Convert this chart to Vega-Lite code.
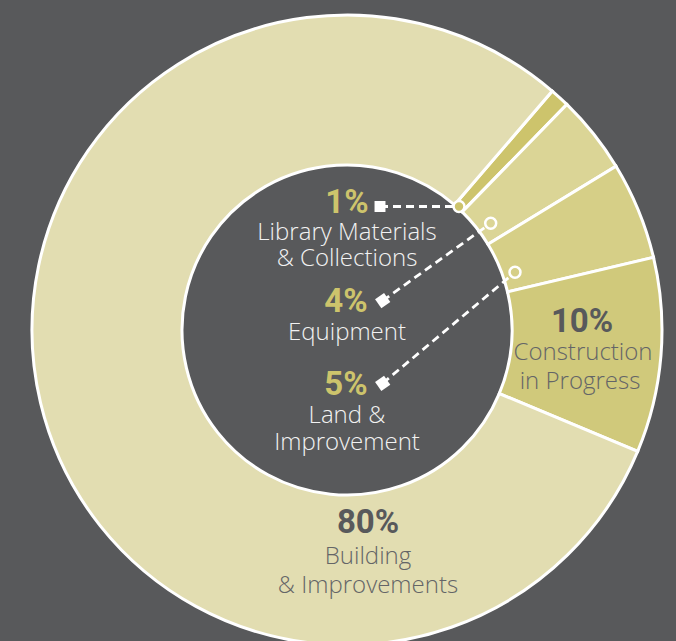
{
  "$schema": "https://vega.github.io/schema/vega-lite/v6.json",
  "width": 676,
  "height": 641,
  "autosize": {"type": "none"},
  "padding": 0,
  "background": "#58595b",
  "config": {"view": {"stroke": null}},
  "datasets": {
    "slices": [
      {"label": "Library Materials & Collections", "value": 1, "order": 1},
      {"label": "Equipment", "value": 4, "order": 2},
      {"label": "Land & Improvement", "value": 5, "order": 3},
      {"label": "Construction in Progress", "value": 10, "order": 4},
      {"label": "Building & Improvements", "value": 80, "order": 5}
    ],
    "leaders": [
      {"label": "Library Materials & Collections", "x1": 0.33, "y1": 1.235, "x2": 1.12, "y2": 1.235},
      {"label": "Equipment", "x1": 0.357, "y1": 0.293, "x2": 1.437, "y2": 1.067},
      {"label": "Land & Improvement", "x1": 0.357, "y1": -0.533, "x2": 1.68, "y2": 0.577}
    ],
    "texts": [
      {"text": "1%", "x": 0, "y": 1.27, "role": "innerPct"},
      {"text": "Library Materials", "x": 0, "y": 0.97, "role": "innerName"},
      {"text": "& Collections", "x": 0, "y": 0.71, "role": "innerName"},
      {"text": "4%", "x": -0.01, "y": 0.28, "role": "innerPct"},
      {"text": "Equipment", "x": 0, "y": -0.03, "role": "innerName"},
      {"text": "5%", "x": -0.01, "y": -0.55, "role": "innerPct"},
      {"text": "Land &", "x": 0, "y": -0.86, "role": "innerName"},
      {"text": "Improvement", "x": 0, "y": -1.13, "role": "innerName"},
      {"text": "10%", "x": 2.35, "y": 0.08, "role": "outerPct"},
      {"text": "Construction", "x": 2.36, "y": -0.23, "role": "outerName"},
      {"text": "in Progress", "x": 2.33, "y": -0.52, "role": "outerName"},
      {"text": "80%", "x": 0.21, "y": -1.93, "role": "outerPct"},
      {"text": "Building", "x": 0.21, "y": -2.27, "role": "outerName"},
      {"text": "& Improvements", "x": 0.21, "y": -2.56, "role": "outerName"}
    ]
  },
  "layer": [
    {
      "data": {"name": "slices"},
      "mark": {"type": "arc", "outerRadius": 315, "innerRadius": 165, "stroke": "white", "strokeWidth": 3},
      "encoding": {
        "x": {"datum": 0, "type": "quantitative", "scale": {"domain": [-3.47, 3.29], "nice": false, "zero": false}, "axis": null},
        "y": {"datum": 0, "type": "quantitative", "scale": {"domain": [-3.11, 3.30], "nice": false, "zero": false}, "axis": null},
        "theta": {"field": "value", "type": "quantitative", "stack": true, "scale": {"range": [0.7097, 6.9929]}},
        "order": {"field": "order", "type": "quantitative"},
        "color": {
          "field": "label", "type": "nominal", "legend": null,
          "scale": {
            "domain": ["Library Materials & Collections", "Equipment", "Land & Improvement", "Construction in Progress", "Building & Improvements"],
            "range": ["#cdc46c", "#dbd596", "#d6cf87", "#d0c97b", "#e2ddb1"]
          }
        }
      }
    },
    {
      "data": {"name": "leaders"},
      "mark": {"type": "rule", "stroke": "white", "strokeWidth": 2.8, "strokeDash": [8, 5]},
      "encoding": {
        "x": {"field": "x1", "type": "quantitative", "axis": null},
        "y": {"field": "y1", "type": "quantitative", "axis": null},
        "x2": {"field": "x2"},
        "y2": {"field": "y2"}
      }
    },
    {
      "data": {"name": "leaders"},
      "transform": [{"filter": "datum.label === 'Library Materials & Collections'"}],
      "mark": {"type": "point", "shape": "square", "filled": true, "fill": "white", "size": 120, "opacity": 1},
      "encoding": {
        "x": {"field": "x1", "type": "quantitative", "axis": null},
        "y": {"field": "y1", "type": "quantitative", "axis": null}
      }
    },
    {
      "data": {"name": "leaders"},
      "transform": [{"filter": "datum.label !== 'Library Materials & Collections'"}],
      "mark": {"type": "point", "shape": "square", "filled": true, "fill": "white", "size": 120, "angle": 55, "opacity": 1},
      "encoding": {
        "x": {"field": "x1", "type": "quantitative", "axis": null},
        "y": {"field": "y1", "type": "quantitative", "axis": null}
      }
    },
    {
      "data": {"name": "leaders"},
      "mark": {"type": "point", "shape": "circle", "filled": true, "stroke": "white", "strokeWidth": 2.5, "size": 120, "opacity": 1},
      "encoding": {
        "x": {"field": "x2", "type": "quantitative", "axis": null},
        "y": {"field": "y2", "type": "quantitative", "axis": null},
        "color": {"field": "label", "type": "nominal", "legend": null}
      }
    },
    {
      "data": {"name": "texts"},
      "transform": [{"filter": "datum.role === 'innerPct'"}],
      "mark": {"type": "text", "font": "Roboto", "fontWeight": 700, "fontSize": 33, "fill": "#cdc46c", "baseline": "middle", "align": "center"},
      "encoding": {
        "x": {"field": "x", "type": "quantitative", "axis": null},
        "y": {"field": "y", "type": "quantitative", "axis": null},
        "text": {"field": "text"}
      }
    },
    {
      "data": {"name": "texts"},
      "transform": [{"filter": "datum.role === 'innerName'"}],
      "mark": {"type": "text", "font": "Open Sans", "fontWeight": 300, "fontSize": 24, "fill": "#f2f2f2", "baseline": "middle", "align": "center"},
      "encoding": {
        "x": {"field": "x", "type": "quantitative", "axis": null},
        "y": {"field": "y", "type": "quantitative", "axis": null},
        "text": {"field": "text"}
      }
    },
    {
      "data": {"name": "texts"},
      "transform": [{"filter": "datum.role === 'outerPct'"}],
      "mark": {"type": "text", "font": "Roboto", "fontWeight": 700, "fontSize": 33, "fill": "#58595b", "baseline": "middle", "align": "center"},
      "encoding": {
        "x": {"field": "x", "type": "quantitative", "axis": null},
        "y": {"field": "y", "type": "quantitative", "axis": null},
        "text": {"field": "text"}
      }
    },
    {
      "data": {"name": "texts"},
      "transform": [{"filter": "datum.role === 'outerName'"}],
      "mark": {"type": "text", "font": "Open Sans", "fontWeight": 300, "fontSize": 24, "fill": "#646567", "baseline": "middle", "align": "center"},
      "encoding": {
        "x": {"field": "x", "type": "quantitative", "axis": null},
        "y": {"field": "y", "type": "quantitative", "axis": null},
        "text": {"field": "text"}
      }
    }
  ]
}
